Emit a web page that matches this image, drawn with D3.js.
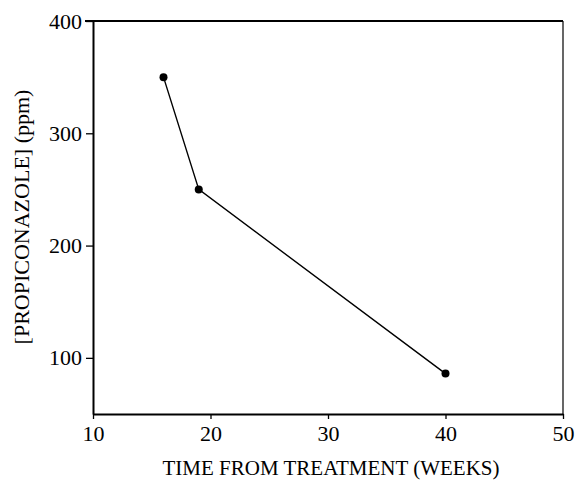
<!DOCTYPE html>
<html>
<head>
<meta charset="utf-8">
<script src="https://cdn.jsdelivr.net/npm/d3@7.9.0/dist/d3.min.js"></script>
<style>
  body { margin: 0; background: #fff; }
  svg text { font-family: "Liberation Serif", "Times New Roman", serif; fill: #000; }
</style>
</head>
<body>
<svg id="chart" width="576" height="482"></svg>
<script>
// data
const weeks = [16, 19, 40];
const ppm = [350, 250, 86];
const xTicks = [10, 20, 30, 40, 50];
const yTicks = [100, 200, 300, 400];

const margin = { top: 21, right: 13, bottom: 68, left: 93 };
const width = 576, height = 482;

const svg = d3.select('#chart');

const x = d3.scaleLinear().domain([10, 50]).range([margin.left, width - margin.right]);
const y = d3.scaleLinear().domain([50, 400]).range([height - margin.bottom, margin.top]);

// frame: top and right
svg.append('line')
  .attr('x1', x(10) - 8).attr('x2', x(50)).attr('y1', y(400)).attr('y2', y(400))
  .attr('stroke', '#000').attr('stroke-width', 2);
svg.append('line')
  .attr('x1', x(50)).attr('x2', x(50)).attr('y1', y(400)).attr('y2', y(50))
  .attr('stroke', '#000').attr('stroke-width', 1.2);

// x axis
const xAxis = svg.append('g')
  .attr('transform', `translate(0,${y(50)})`)
  .call(d3.axisBottom(x).tickValues(xTicks).tickSize(5).tickPadding(6).tickSizeOuter(0));
xAxis.attr('font-family', null).attr('font-size', null);
xAxis.select('.domain').attr('stroke-width', 2);
xAxis.selectAll('.tick line').attr('stroke-width', 1.3);
xAxis.selectAll('text').attr('font-size', 22);

// y axis
const yAxis = svg.append('g')
  .attr('transform', `translate(${x(10)},0)`)
  .call(d3.axisLeft(y).tickValues(yTicks).tickSize(7).tickPadding(4).tickSizeOuter(0));
yAxis.attr('font-family', null).attr('font-size', null);
yAxis.select('.domain').attr('stroke-width', 2);
yAxis.selectAll('.tick line').attr('stroke-width', 1.3);
yAxis.selectAll('text').attr('font-size', 22);

// line + points
const line = d3.line().x((d, i) => x(weeks[i])).y(d => y(d));
svg.append('path')
  .datum(ppm)
  .attr('d', line)
  .attr('fill', 'none')
  .attr('stroke', '#000')
  .attr('stroke-width', 1.4);

svg.selectAll('circle.pt')
  .data(ppm)
  .join('circle')
  .attr('class', 'pt')
  .attr('cx', (d, i) => x(weeks[i]))
  .attr('cy', d => y(d))
  .attr('r', 4)
  .attr('fill', '#000');

// titles
svg.append('text')
  .attr('x', 331)
  .attr('y', 475)
  .attr('text-anchor', 'middle')
  .attr('font-size', 21)
  .text('TIME FROM TREATMENT (WEEKS)');

svg.append('text')
  .attr('transform', 'translate(29,217) rotate(-90)')
  .attr('text-anchor', 'middle')
  .attr('font-size', 22)
  .text('[PROPICONAZOLE] (ppm)');
</script>
</body>
</html>
